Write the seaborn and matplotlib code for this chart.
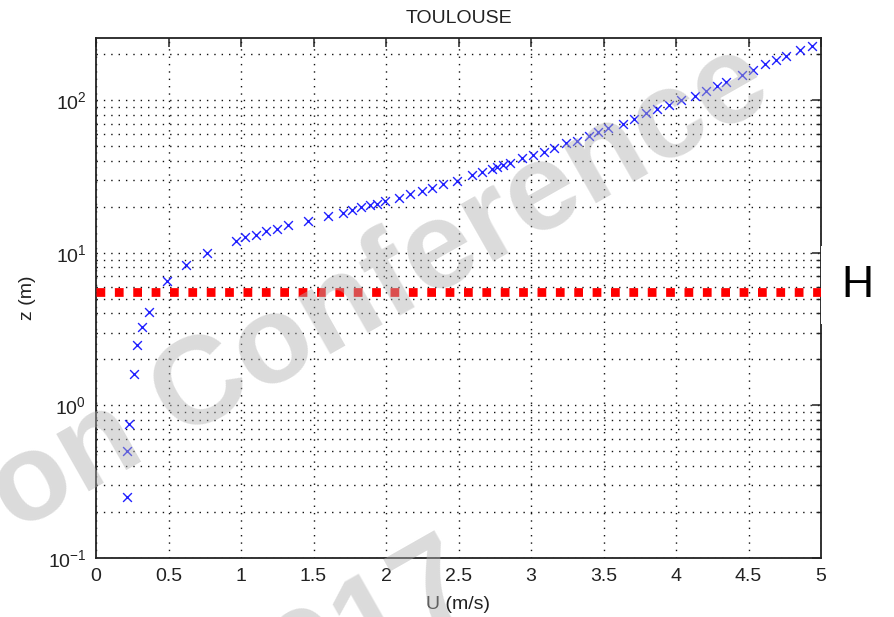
import numpy as np
import pandas as pd
import matplotlib
matplotlib.use("Agg")
import matplotlib.pyplot as plt
from matplotlib.patches import Rectangle
from matplotlib.ticker import FixedLocator, FixedFormatter, LogLocator, NullFormatter
import seaborn as sns

# Wind speed profile (Toulouse)
wind_speed = [0.216, 0.216, 0.225, 0.26, 0.285, 0.315, 0.366, 0.49, 0.62, 0.766,
              0.963, 1.03, 1.103, 1.172, 1.246, 1.324, 1.462, 1.6, 1.706, 1.763,
              1.83, 1.89, 1.94, 1.99, 2.09, 2.166, 2.246, 2.315, 2.395, 2.49,
              2.595, 2.66, 2.729, 2.768, 2.81, 2.855, 2.936, 3.016, 3.09, 3.16,
              3.24, 3.32, 3.4, 3.464, 3.533, 3.632, 3.713, 3.793, 3.871, 3.95,
              4.032, 4.129, 4.207, 4.28, 4.345, 4.453, 4.533, 4.614, 4.687, 4.756,
              4.855, 4.936]
height = [0.25, 0.5, 0.75, 1.6, 2.5, 3.26, 4.1, 6.5, 8.35, 10.0,
          12.0, 12.6, 13.1, 13.8, 14.4, 15.1, 16.1, 17.3, 18.3, 19.0,
          19.8, 20.4, 21.0, 21.7, 22.7, 24.3, 25.4, 26.7, 28.0, 29.7,
          32.3, 33.9, 35.2, 36.2, 37.4, 38.5, 41.5, 43.9, 45.4, 48.5,
          52.0, 54.1, 58.0, 61.4, 65.2, 69.7, 75.7, 81.7, 86.8, 92.2,
          100.0, 107.0, 115.0, 123.0, 132.0, 146.0, 158.0, 172.0, 183.0, 195.0,
          212.0, 226.0]
canopy_height = 5.5

x_ticks = [0, 0.5, 1, 1.5, 2, 2.5, 3, 3.5, 4, 4.5, 5]
x_tick_labels = ["0", "0.5", "1", "1.5", "2", "2.5", "3", "3.5", "4", "4.5", "5"]
y_ticks = [0.1, 1, 10, 100]
y_tick_labels = [r"$10^{-1}$", r"$10^{0}$", r"$10^{1}$", r"$10^{2}$"]

df = pd.DataFrame({"U": wind_speed, "z": height})

sns.set_theme(style="white")
plt.rcParams["font.family"] = ["Liberation Sans", "DejaVu Sans"]
plt.rcParams["mathtext.default"] = "regular"
plt.rcParams["mathtext.fontset"] = "custom"
plt.rcParams["mathtext.rm"] = "Liberation Sans"
plt.rcParams["mathtext.it"] = "Liberation Sans"

W, H = 894, 617
fig = plt.figure(figsize=(W / 100, H / 100), dpi=100)
fig.patch.set_facecolor("white")
ax = fig.add_axes([96 / W, 1 - 558 / H, (821 - 96) / W, (558 - 38) / H])
ax.set_facecolor("white")

ax.set_yscale("log")
ax.set_xlim(0, 5)
ax.set_ylim(0.1, 255)

grid_style = dict(color="#111111", linestyle=(0, (1, 4.3)), linewidth=1.0)
ax.xaxis.set_major_locator(FixedLocator(x_ticks))
ax.xaxis.set_major_formatter(FixedFormatter(x_tick_labels))
ax.yaxis.set_major_locator(FixedLocator(y_ticks))
ax.yaxis.set_major_formatter(FixedFormatter(y_tick_labels))
ax.yaxis.set_minor_locator(LogLocator(base=10, subs=np.arange(2, 10)))
ax.yaxis.set_minor_formatter(NullFormatter())
ax.grid(True, which="major", axis="both", **grid_style)
ax.grid(True, which="minor", axis="y", **grid_style)
ax.set_axisbelow(True)

ax.tick_params(which="both", direction="in", top=True, right=True,
               color="#222222", labelsize=14, labelcolor="#222222")
ax.tick_params(which="major", length=6.5, width=1.1, pad=7)
ax.tick_params(which="minor", length=3.5, width=1.0)
for sp in ax.spines.values():
    sp.set_color("#222222")
    sp.set_linewidth(1.3)
    sp.set_visible(True)

# canopy height marker
ax.axhline(canopy_height, color="red", linewidth=6.3,
           linestyle=(0, (1.0, 1.1)), dash_capstyle="butt", zorder=3)

sns.scatterplot(data=df, x="U", y="z", ax=ax, marker="x", color="#2020ff",
                s=40, linewidth=1.0, zorder=4, legend=False)

ax.set_title("TOULOUSE", fontsize=14, color="#222222", pad=11)
ax.set_xlabel("U (m/s)", fontsize=14, color="#222222", labelpad=8)
ax.set_ylabel("z (m)", fontsize=14, color="#222222", labelpad=8)

# label for the canopy height, on a white panel at the right of the frame
fig.patches.append(Rectangle((820.5 / W, 1 - 324 / H), (W - 820.5) / W, (324 - 246) / H,
                             transform=fig.transFigure, facecolor="white",
                             edgecolor="none", zorder=2))
fig.text(857 / W, 1 - 286 / H, "H", fontsize=32, ha="center", va="center",
         color="black", zorder=3)

# watermark
fig.text(396 / W, 1 - 317 / H, "on Conference", fontsize=90, fontweight="bold",
         color="#b0b0b0", alpha=0.45, rotation=29.6, rotation_mode="anchor",
         ha="center", va="baseline", zorder=5)
fig.text(482 / W, 1 - 600 / H, "2017", fontsize=90, fontweight="bold",
         color="#b0b0b0", alpha=0.45, rotation=29.6, rotation_mode="anchor",
         ha="right", va="baseline", zorder=5)

fig.savefig("out.png", dpi=100, facecolor="white")
